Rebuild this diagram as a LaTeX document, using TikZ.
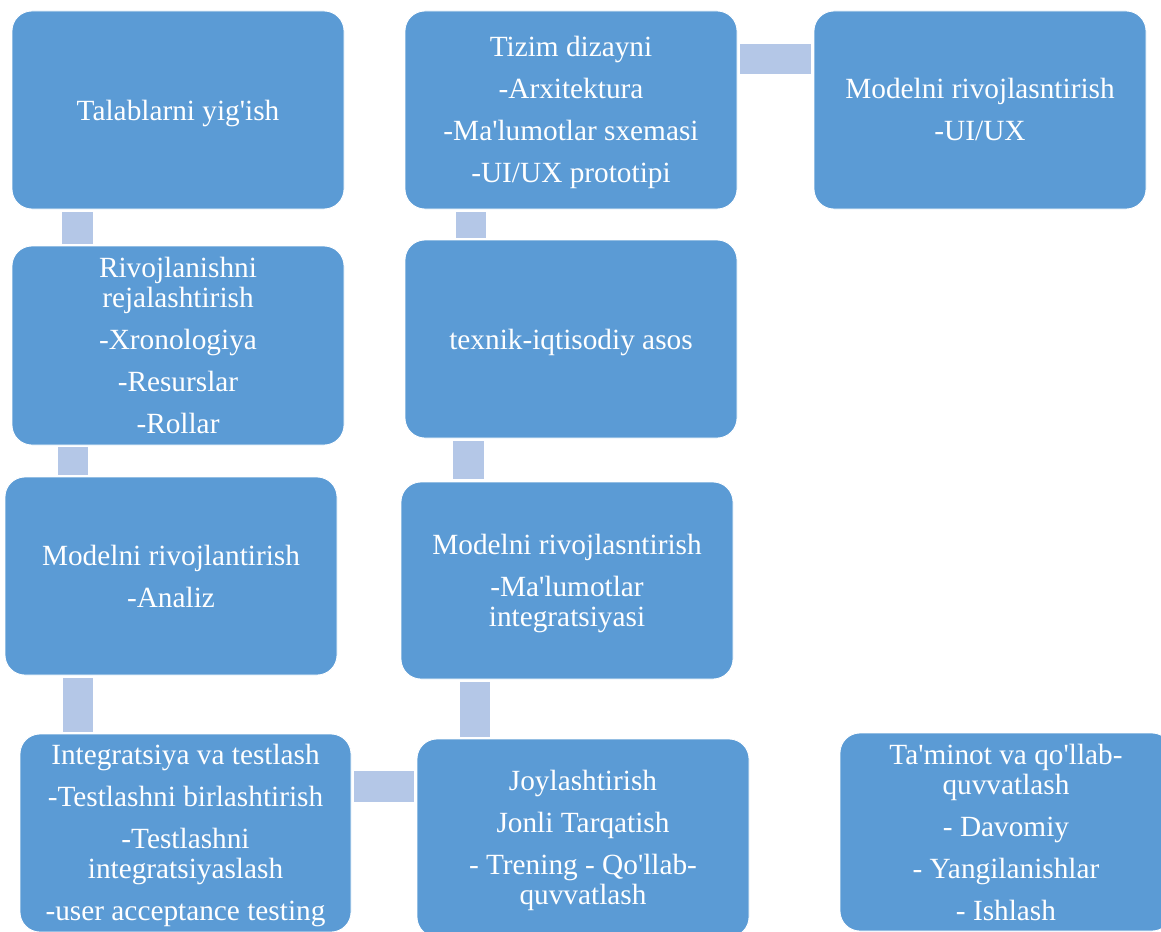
\documentclass[tikz,border=0pt]{standalone}
\usepackage{fontspec}
\setmainfont{Liberation Serif}[Ligatures=TeXOff]
\usetikzlibrary{calc}
\definecolor{boxblue}{HTML}{5B9BD5}
\definecolor{barblue}{HTML}{B4C7E7}
\tikzset{
  stepbox/.style={rectangle, rounded corners=20pt, fill=boxblue, draw=white, line width=0.8pt,
    minimum width=332pt, minimum height=198pt, inner sep=0pt},
  boxtext/.style={inner sep=0pt, align=center, text=white, font=\fontsize{29.3}{30}\selectfont},
  bar/.style={draw=barblue, line width=30.5pt, line cap=butt}
}
\begin{document}
\begin{tikzpicture}[x=1pt,y=-1pt]
\useasboundingbox (0,0) rectangle (1161,931);
\clip (0,0) rectangle (1161,931);
\node[stepbox] (b1) at (178,110) {};
\node[stepbox] (b2) at (571,110) {};
\node[stepbox] (b3) at (980,110) {};
\node[stepbox, minimum height=199pt] (b4) at (178,345.5) {};
\node[stepbox] (b5) at (571,339) {};
\node[stepbox] (b6) at (171,576) {};
\node[stepbox, minimum height=197pt] (b7) at (567,580.5) {};
\node[stepbox, minimum width=331pt] (b8) at (185.5,833) {};
\node[stepbox] (b9) at (583,838) {};
\node[stepbox] (b10) at (1006,832) {};
% texts
\node[boxtext] (t1) at ($(b1.center)+(0,3)$) {Talablarni yig'ish};
\node[boxtext] (t2) at ($(b2.center)+(0,2.5)$) {Tizim dizayni\\[12pt]-Arxitektura\\[12pt]-Ma'lumotlar sxemasi\\[12pt]-UI/UX prototipi};
\node[boxtext] (t3) at ($(b3.center)+(0,-1)$) {Modelni rivojlasntirish\\[12pt]-UI/UX};
\node[boxtext] (t4) at ($(b4.center)+(0,0)$) {Rivojlanishni\\rejalashtirish\\[12pt]-Xronologiya\\[12pt]-Resurslar\\[12pt]-Rollar};
\node[boxtext] (t5) at ($(b5.center)+(0,3)$) {texnik-iqtisodiy asos};
\node[boxtext] (t6) at ($(b6.center)+(0,0.5)$) {Modelni rivojlantirish\\[12pt]-Analiz};
\node[boxtext] (t7) at ($(b7.center)+(0,3)$) {Modelni rivojlasntirish\\[12pt]-Ma'lumotlar\\integratsiyasi};
\node[boxtext] (t8) at ($(b8.center)+(0,2.5)$) {Integratsiya va testlash\\[12pt]-Testlashni birlashtirish\\[12pt]-Testlashni\\integratsiyaslash\\[12pt]-user acceptance testing};
\node[boxtext] (t9) at ($(b9.center)+(0,2.5)$) {Joylashtirish\\[12pt]Jonli Tarqatish\\[12pt]- Trening - Qo'llab-\\quvvatlash};
\node[boxtext] (t10) at ($(b10.center)+(0,0)$) {Ta'minot va qo'llab-\\quvvatlash\\[12pt]- Davomiy\\[12pt]- Yangilanishlar\\[12pt]- Ishlash};
% connector bars
\draw[bar] ($(b1.south west)+(66,3)$) -- ($(b4.north west)+(66,-2)$);
\draw[bar] ($(b4.south west)+(61.5,2)$) -- ($(b6.north west)+(68.5,-2)$);
\draw[bar] ($(b6.south west)+(73.5,3)$) -- ($(b8.north west)+(58.5,-2)$);
\draw[bar] ($(b8.north east)+(3,53)$) -- ($(b9.north west)+(-3,48)$);
\draw[bar] ($(b9.north west)+(58.5,-2)$) -- ($(b7.south west)+(74.5,3)$);
\draw[bar] ($(b7.north west)+(68,-3)$) -- ($(b5.south west)+(64,3)$);
\draw[bar] ($(b5.north west)+(66.5,-2)$) -- ($(b2.south west)+(66.5,3)$);
\draw[bar] ($(b2.north east)+(3,48.5)$) -- ($(b3.north west)+(-3,48.5)$);
\end{tikzpicture}
\end{document}
